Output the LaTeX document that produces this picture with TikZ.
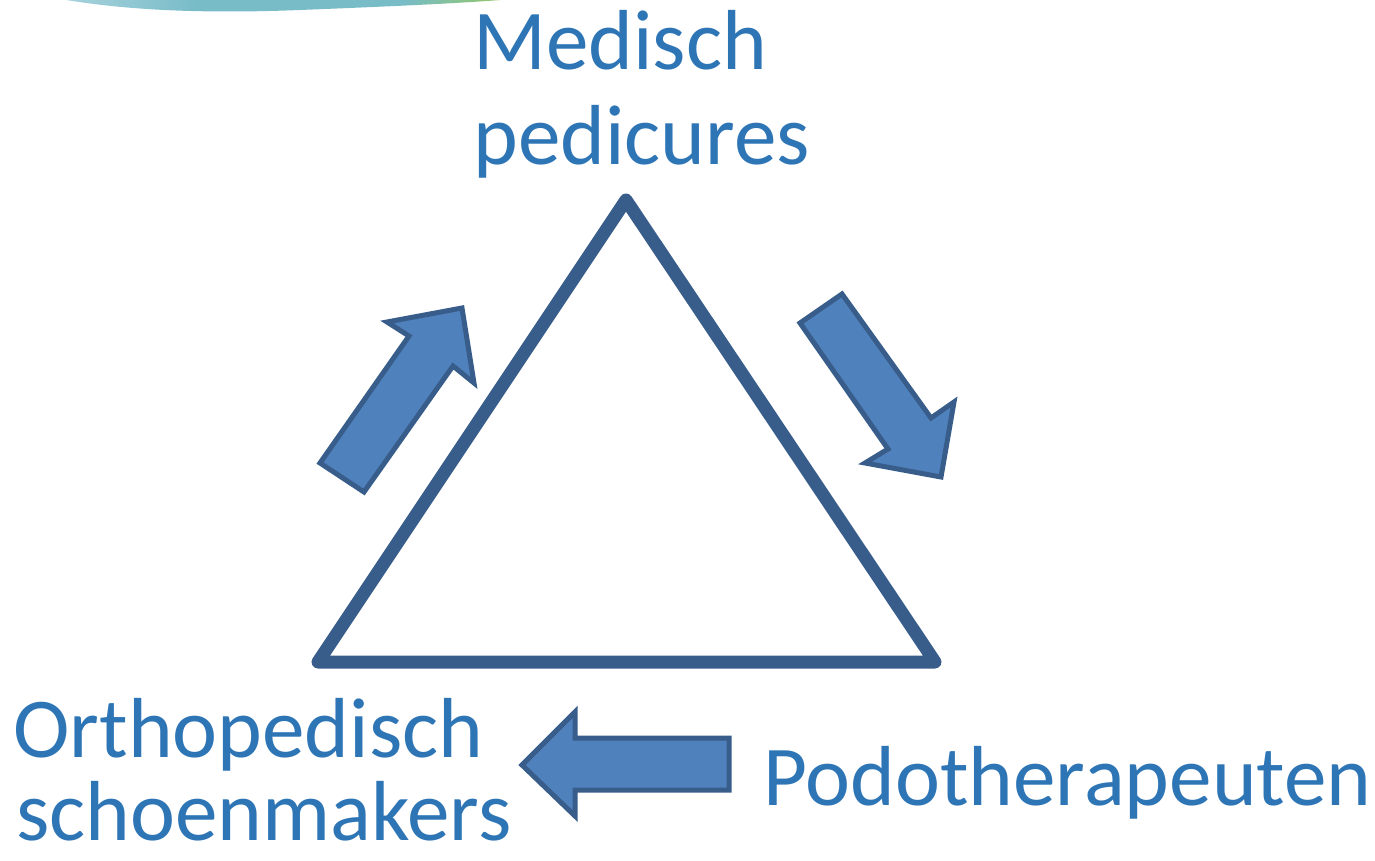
\documentclass[tikz,border=0pt]{standalone}
\usepackage{fontspec}
\setmainfont{Carlito}
\usetikzlibrary{calc}
\definecolor{labelblue}{RGB}{46,117,182}
\definecolor{edgeblue}{RGB}{56,93,138}
\definecolor{arrowblue}{RGB}{79,129,189}
\definecolor{swpale}{RGB}{205,228,236}
\definecolor{swteal}{RGB}{120,188,200}
\definecolor{swgreen}{RGB}{150,200,90}
\definecolor{swyellow}{RGB}{205,215,20}
\pgfdeclarehorizontalshading{swoosh}{100bp}{color(0bp)=(white); color(15bp)=(swpale); color(40bp)=(swteal); color(62bp)=(swteal); color(74bp)=(swgreen); color(84bp)=(swyellow); color(100bp)=(white)}
\tikzset{
	label/.style={font=\fontsize{48.5}{58}\selectfont, text=labelblue, inner sep=0pt},
	blockarrow/.style={fill=arrowblue, draw=edgeblue, line width=0.1cm, line join=miter}
}

\begin{document}
\begin{tikzpicture}[x=0.02cm, y=-0.02cm]
	\useasboundingbox (0,0) rectangle (1375,861);

	% swoosh at the top edge
	\shade[shading=swoosh] (55,-2) .. controls (120,10) and (200,14) .. (300,10)
		.. controls (400,6) and (470,3) .. (525,-2) -- cycle;

	% triangle
	\coordinate (top) at (626,200);
	\coordinate (left) at (318,662);
	\coordinate (right) at (935,662);
	\draw[edgeblue, line width=0.26cm, line join=round] (top) -- (right) -- (left) -- cycle;

	% block arrows
	\draw[blockarrow] (320,463) -- (409,336) -- (387,322) -- (462,308) -- (474,383)
		-- (453,366) -- (364,492) -- cycle;
	\draw[blockarrow] (800,323) -- (842,294) -- (931,418) -- (954,402) -- (941,477)
		-- (865,463) -- (888,449) -- cycle;
	\draw[blockarrow] (522,765) -- (575,712) -- (575,738) -- (729,738) -- (729,790)
		-- (575,790) -- (575,816) -- cycle;

	% labels
	\node[label, anchor=base west] (med1) at (473,70) {Medisch};
	\node[label, anchor=base west] (med2) at (473,165) {pedicures};
	\node[label, anchor=base west] (ort1) at (13,757) {Orthopedisch};
	\node[label, anchor=base west] (ort2) at (16,840) {schoenmakers};
	\node[label, anchor=base west] (pod) at (763,805) {Podotherapeuten};

\end{tikzpicture}
\end{document}
